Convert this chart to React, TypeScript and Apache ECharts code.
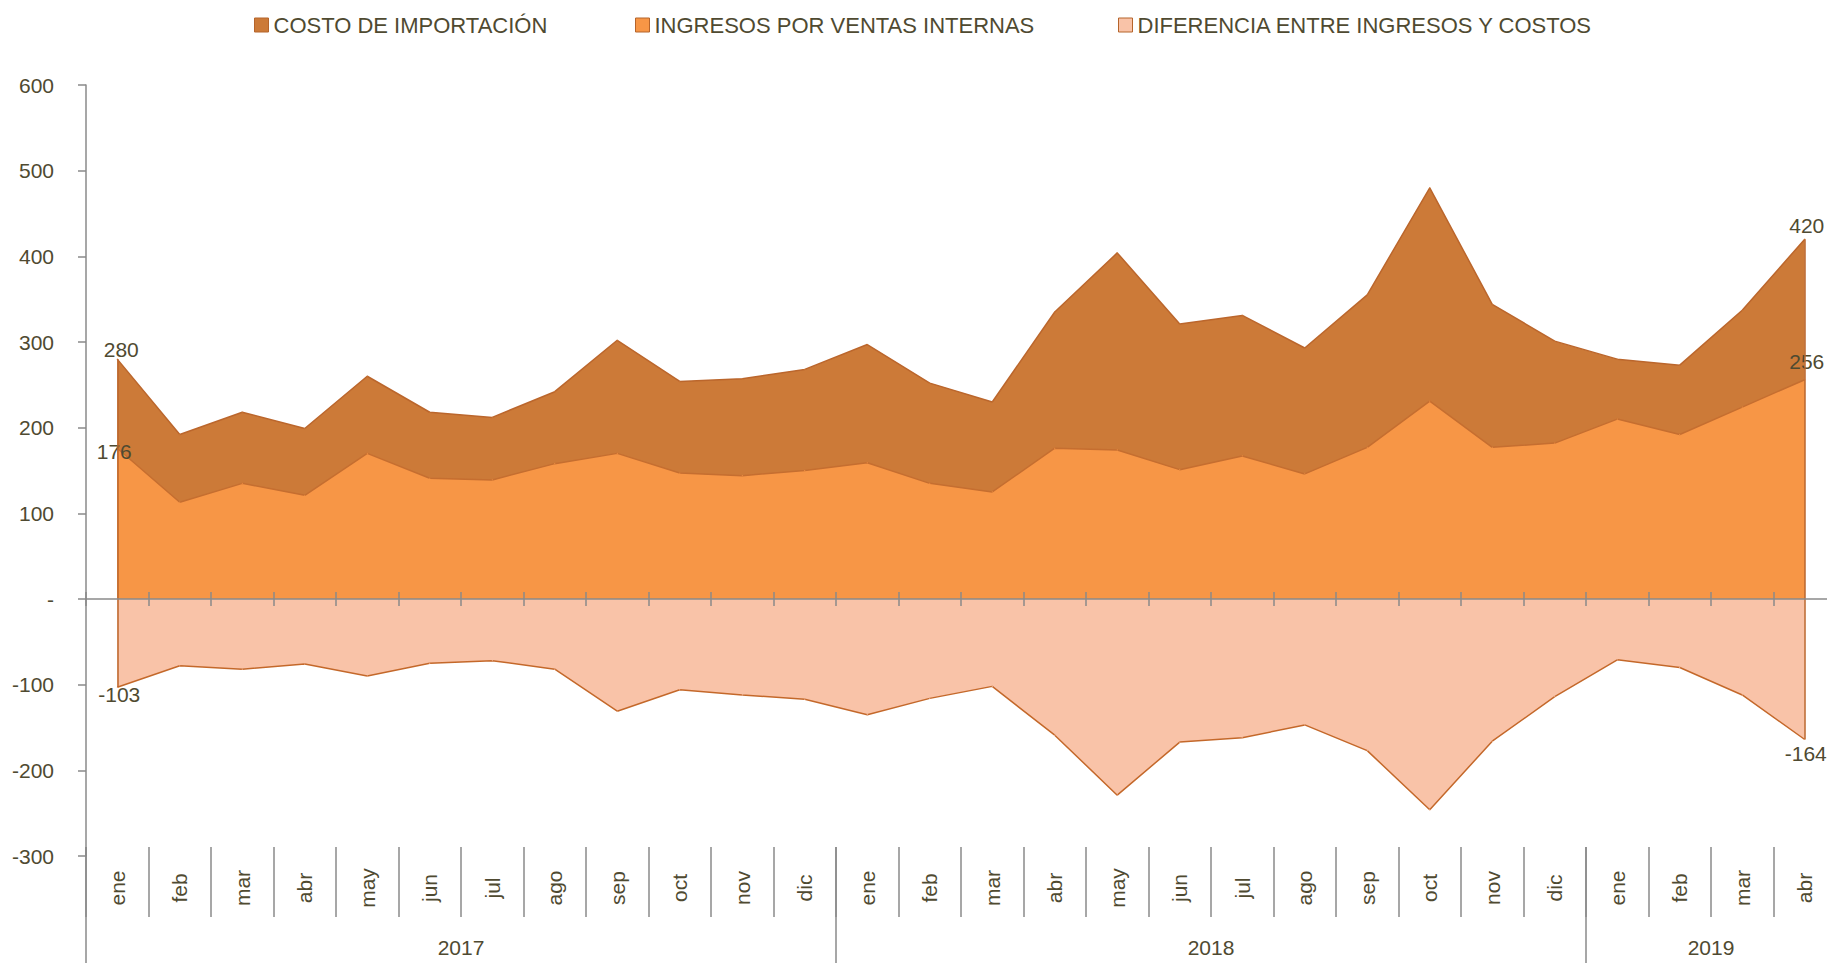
import React, { useEffect, useRef } from "react";
import * as echarts from "echarts";

const monthLabels = [
  "ene", "feb", "mar", "abr", "may", "jun", "jul", "ago", "sep", "oct", "nov", "dic",
  "ene", "feb", "mar", "abr", "may", "jun", "jul", "ago", "sep", "oct", "nov", "dic",
  "ene", "feb", "mar", "abr",
];
const yearLabels = ["2017", "2018", "2019"];
const yearSpans = [12, 12, 4];

const costoImportacion = [
  280, 192, 218, 199, 260, 218, 212, 242, 302, 254, 257, 268,
  297, 252, 230, 335, 404, 321, 331, 293, 355, 480, 344, 301,
  280, 273, 337, 420,
];
const ingresosVentas = [
  176, 113, 135, 121, 170, 141, 139, 158, 170, 147, 144, 150,
  159, 135, 125, 176, 174, 151, 167, 146, 177, 231, 177, 182,
  210, 192, 224, 256,
];
const diferencia = [
  -103, -78, -82, -76, -90, -75, -72, -82, -131, -106, -112, -117,
  -135, -116, -102, -159, -229, -167, -162, -147, -177, -246, -166, -114,
  -71, -80, -112, -164,
];

const seriesNames = [
  "COSTO DE IMPORTACIÓN",
  "INGRESOS POR VENTAS INTERNAS",
  "DIFERENCIA ENTRE INGRESOS Y COSTOS",
];

const Y_MIN = -300;
const Y_MAX = 600;
const Y_STEP = 100;

const TEXT = "#4f4a31";
const AXIS = "#8a8a8a";
const EDGE = "#bb662c";

function hasFont(name: string): boolean {
  try {
    const c = document.createElement("canvas").getContext("2d");
    if (!c) return false;
    c.font = `40px "${name}", monospace`;
    const a = c.measureText("0123456789abc").width;
    c.font = "40px monospace";
    const b = c.measureText("0123456789abc").width;
    return Math.abs(a - b) > 1;
  } catch (e) {
    return false;
  }
}

function withEndLabels(values: number[], first: any, last: any) {
  return values.map((v, i) => {
    if (i === 0) return { value: v, label: { show: true, ...first } };
    if (i === values.length - 1) return { value: v, label: { show: true, ...last } };
    return v;
  });
}

export default function App() {
  const ref = useRef<HTMLDivElement>(null);

  useEffect(() => {
    if (!ref.current) return;
    const chart = echarts.init(ref.current, undefined, { renderer: "svg" });
    const narrow = hasFont("Liberation Sans Narrow");
    const yFont = narrow
      ? { fontFamily: "Liberation Sans Narrow", fontSize: 24 }
      : { fontFamily: "Liberation Sans", fontSize: 21 };
    const base = "Liberation Sans";

    const gridTop = 85;
    const gridHeight = 771;
    // distance from grid bottom up to the zero line
    const zeroOffset = -Math.round((gridHeight * (0 - Y_MIN)) / (Y_MAX - Y_MIN));

    const totalMonths = yearSpans.reduce((a, b) => a + b, 0);
    const yearSlots: string[] = new Array(totalMonths * 2 + 1).fill("");
    const yearBounds = new Set<number>([0]);
    let start = 0;
    yearSpans.forEach((span, i) => {
      yearSlots[start * 2 + span] = yearLabels[i];
      start += span;
      yearBounds.add(start * 2);
    });

    const lastIdx = monthLabels.length - 1;

    const labelBase = {
      show: false,
      color: TEXT,
      fontFamily: base,
      fontSize: 21,
    };

    const legendCommon = {
      top: 8,
      itemWidth: 14,
      itemHeight: 14,
      icon: "rect",
      itemStyle: { borderColor: "#b5642b", borderWidth: 1 },
      textStyle: { color: TEXT, fontFamily: base, fontSize: 22, lineHeight: 24 },
    };

    const option: any = {
      animation: false,
      backgroundColor: "#ffffff",
      legend: [
        { ...legendCommon, left: 249, data: [seriesNames[0]] },
        { ...legendCommon, left: 630, data: [seriesNames[1]] },
        { ...legendCommon, left: 1113, data: [seriesNames[2]] },
      ],
      grid: { left: 86, top: gridTop, width: 1750, height: gridHeight, containLabel: false },
      xAxis: [
        {
          type: "category",
          data: monthLabels,
          boundaryGap: true,
          position: "bottom",
          z: 6,
          axisLine: { onZero: true, lineStyle: { color: AXIS, width: 1.5 } },
          axisTick: { show: true, interval: 0, length: 7, lineStyle: { color: AXIS, width: 1.5 } },
          axisLabel: { show: false },
          splitLine: { show: false },
        },
        {
          type: "category",
          data: monthLabels,
          boundaryGap: true,
          position: "bottom",
          offset: zeroOffset,
          z: 6,
          axisLine: { show: false, onZero: false },
          axisTick: { show: true, inside: true, interval: 0, length: 7, lineStyle: { color: AXIS, width: 1.5 } },
          axisLabel: { show: false },
          splitLine: { show: false },
        },
        {
          type: "category",
          data: monthLabels,
          boundaryGap: true,
          position: "bottom",
          offset: -9,
          axisLine: { show: false, onZero: false },
          axisTick: { show: true, interval: 0, length: 70, lineStyle: { color: AXIS, width: 1.5 } },
          axisLabel: {
            interval: 0,
            rotate: 90,
            align: "center",
            verticalAlign: "middle",
            margin: 41,
            color: TEXT,
            fontFamily: base,
            fontSize: 21,
          },
          splitLine: { show: false },
        },
        {
          type: "category",
          data: yearSlots,
          boundaryGap: false,
          position: "bottom",
          offset: -9,
          axisLine: { show: false, onZero: false },
          axisTick: {
            show: true,
            interval: (idx: number) => yearBounds.has(idx),
            length: 130,
            lineStyle: { color: AXIS, width: 1.5 },
          },
          axisLabel: {
            interval: 0,
            margin: 100,
            verticalAlign: "middle",
            color: TEXT,
            fontFamily: base,
            fontSize: 21,
          },
          splitLine: { show: false },
        },
      ],
      yAxis: {
        type: "value",
        min: Y_MIN,
        max: Y_MAX,
        interval: Y_STEP,
        axisLine: { show: true, onZero: false, lineStyle: { color: AXIS, width: 1.5 } },
        axisTick: { show: true, length: 8, lineStyle: { color: AXIS, width: 1.5 } },
        axisLabel: {
          margin: 32,
          color: TEXT,
          ...yFont,
          formatter: (v: number) => (v === 0 ? "-" : String(v)),
        },
        splitLine: { show: false },
      },
      series: [
        {
          name: seriesNames[0],
          type: "line",
          xAxisIndex: 0,
          yAxisIndex: 0,
          data: withEndLabels(
            costoImportacion,
            { position: "top", offset: [4, 6] },
            { position: "top", offset: [2, 2] }
          ),
          symbol: "circle",
          symbolSize: 1,
          showSymbol: true,
          color: "#cc7a38",
          itemStyle: { color: "#cc7a38" },
          lineStyle: { color: EDGE, width: 1.5 },
          areaStyle: { color: "#cc7a38", opacity: 1 },
          label: labelBase,
          z: 2,
          markLine: {
            silent: true,
            symbol: "none",
            label: { show: false },
            lineStyle: { color: EDGE, width: 1.5, type: "solid" },
            data: [
              [
                { coord: [0, costoImportacion[0]] },
                { coord: [0, diferencia[0]] },
              ],
              [
                { coord: [lastIdx, costoImportacion[lastIdx]] },
                { coord: [lastIdx, diferencia[lastIdx]] },
              ],
            ],
            z: 4,
          },
        },
        {
          name: seriesNames[1],
          type: "line",
          xAxisIndex: 0,
          yAxisIndex: 0,
          data: withEndLabels(
            ingresosVentas,
            { position: "top", offset: [-3, 19] },
            { position: "top", offset: [2, -2] }
          ),
          symbol: "circle",
          symbolSize: 1,
          showSymbol: true,
          color: "#f79646",
          itemStyle: { color: "#f79646" },
          lineStyle: { color: "#c56e30", width: 1.5 },
          areaStyle: { color: "#f79646", opacity: 1 },
          label: labelBase,
          z: 3,
        },
        {
          name: seriesNames[2],
          type: "line",
          xAxisIndex: 0,
          yAxisIndex: 0,
          data: withEndLabels(
            diferencia,
            { position: "bottom", offset: [2, -9] },
            { position: "bottom", offset: [1, -2] }
          ),
          symbol: "circle",
          symbolSize: 1,
          showSymbol: true,
          color: "#f9c3a8",
          itemStyle: { color: "#f9c3a8" },
          lineStyle: { color: "#c4682a", width: 1.5 },
          areaStyle: { color: "#f9c3a8", opacity: 1 },
          label: labelBase,
          z: 3,
        },
      ],
    };

    chart.setOption(option);
    return () => chart.dispose();
  }, []);

  return (
    <div
      style={{
        position: "absolute",
        left: 0,
        top: 0,
        width: "1827px",
        height: "963px",
        overflow: "hidden",
        background: "#ffffff",
      }}
    >
      <div ref={ref} style={{ width: "1860px", height: "963px" }} />
    </div>
  );
}
